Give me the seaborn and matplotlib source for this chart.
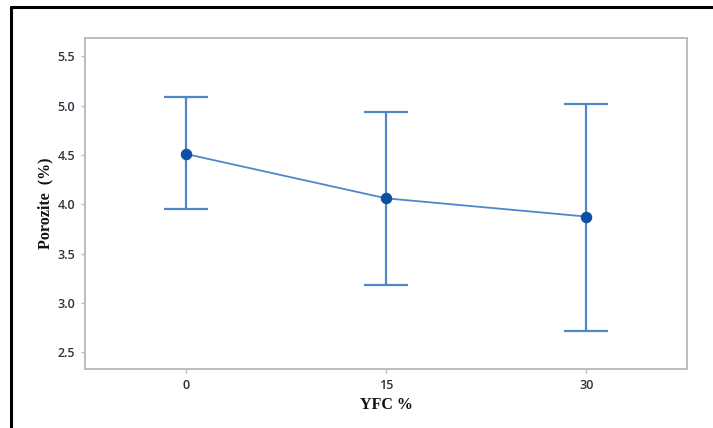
import matplotlib
matplotlib.use("Agg")
import matplotlib.pyplot as plt
from matplotlib.lines import Line2D
import seaborn as sns
import pandas as pd

# YFC content levels and porosity statistics
yfc = [0, 15, 30]
porosity_mean = [4.51, 4.06, 3.875]
porosity_upper = [5.085, 4.93, 5.02]
porosity_lower = [3.95, 3.18, 2.72]
yticks = [2.5, 3.0, 3.5, 4.0, 4.5, 5.0, 5.5]

df = pd.DataFrame({"YFC": yfc, "Porozite": porosity_mean})

sns.set_theme(style="white")
plt.rcParams["font.family"] = ["Open Sans", "DejaVu Sans"]

fig = plt.figure(figsize=(7.13, 4.28), dpi=100)
ax = fig.add_axes([85 / 713, 1 - 369 / 428, 602 / 713, 331 / 428])

line_color = "#4f87c7"
point_color = "#0d4fa3"

# interval bars
err_low = [m - lo for m, lo in zip(porosity_mean, porosity_lower)]
err_high = [hi - m for m, hi in zip(porosity_mean, porosity_upper)]
ax.errorbar(yfc, porosity_mean, yerr=[err_low, err_high], fmt="none",
            ecolor=line_color, elinewidth=1.6, capsize=15.5, capthick=1.6, zorder=2)

# connected means
sns.lineplot(data=df, x="YFC", y="Porozite", ax=ax, color=line_color, linewidth=1.3,
             marker="o", markersize=7.5, markerfacecolor=point_color,
             markeredgecolor=point_color, zorder=3)

ax.set_xlim(-7.55, 37.55)
ax.set_ylim(2.33, 5.685)
ax.set_xticks(yfc)
ax.set_xticklabels([str(v) for v in yfc], fontweight="semibold")
ax.set_yticks(yticks)
ax.set_yticklabels([f"{v:.1f}" for v in yticks], fontweight="semibold")

for side, sp in ax.spines.items():
    sp.set_visible(True)
    sp.set_color("#bdbdbd")
    sp.set_linewidth(1.4)

ax.tick_params(axis="both", which="major", direction="out", length=3, width=1,
               color="#bdbdbd", labelsize=9, labelcolor="#2e3240", pad=4,
               bottom=True, left=True)

ax.set_xlabel("YFC %", fontfamily=["Liberation Serif"], fontweight="bold",
              fontsize=11.5, color="#111111", labelpad=4)
ax.set_ylabel("Porozite  (%)", fontfamily=["Liberation Serif"], fontweight="bold",
              fontsize=11.5, color="#111111", labelpad=3)

# page frame around the figure
fig.add_artist(Line2D([11 / 713, 1], [1 - 7 / 428, 1 - 7 / 428], color="black",
                      linewidth=2.2, transform=fig.transFigure))
fig.add_artist(Line2D([11 / 713, 11 / 713], [0, 1 - 7 / 428], color="black",
                      linewidth=2.2, transform=fig.transFigure))

fig.savefig("out.png", dpi=100)
